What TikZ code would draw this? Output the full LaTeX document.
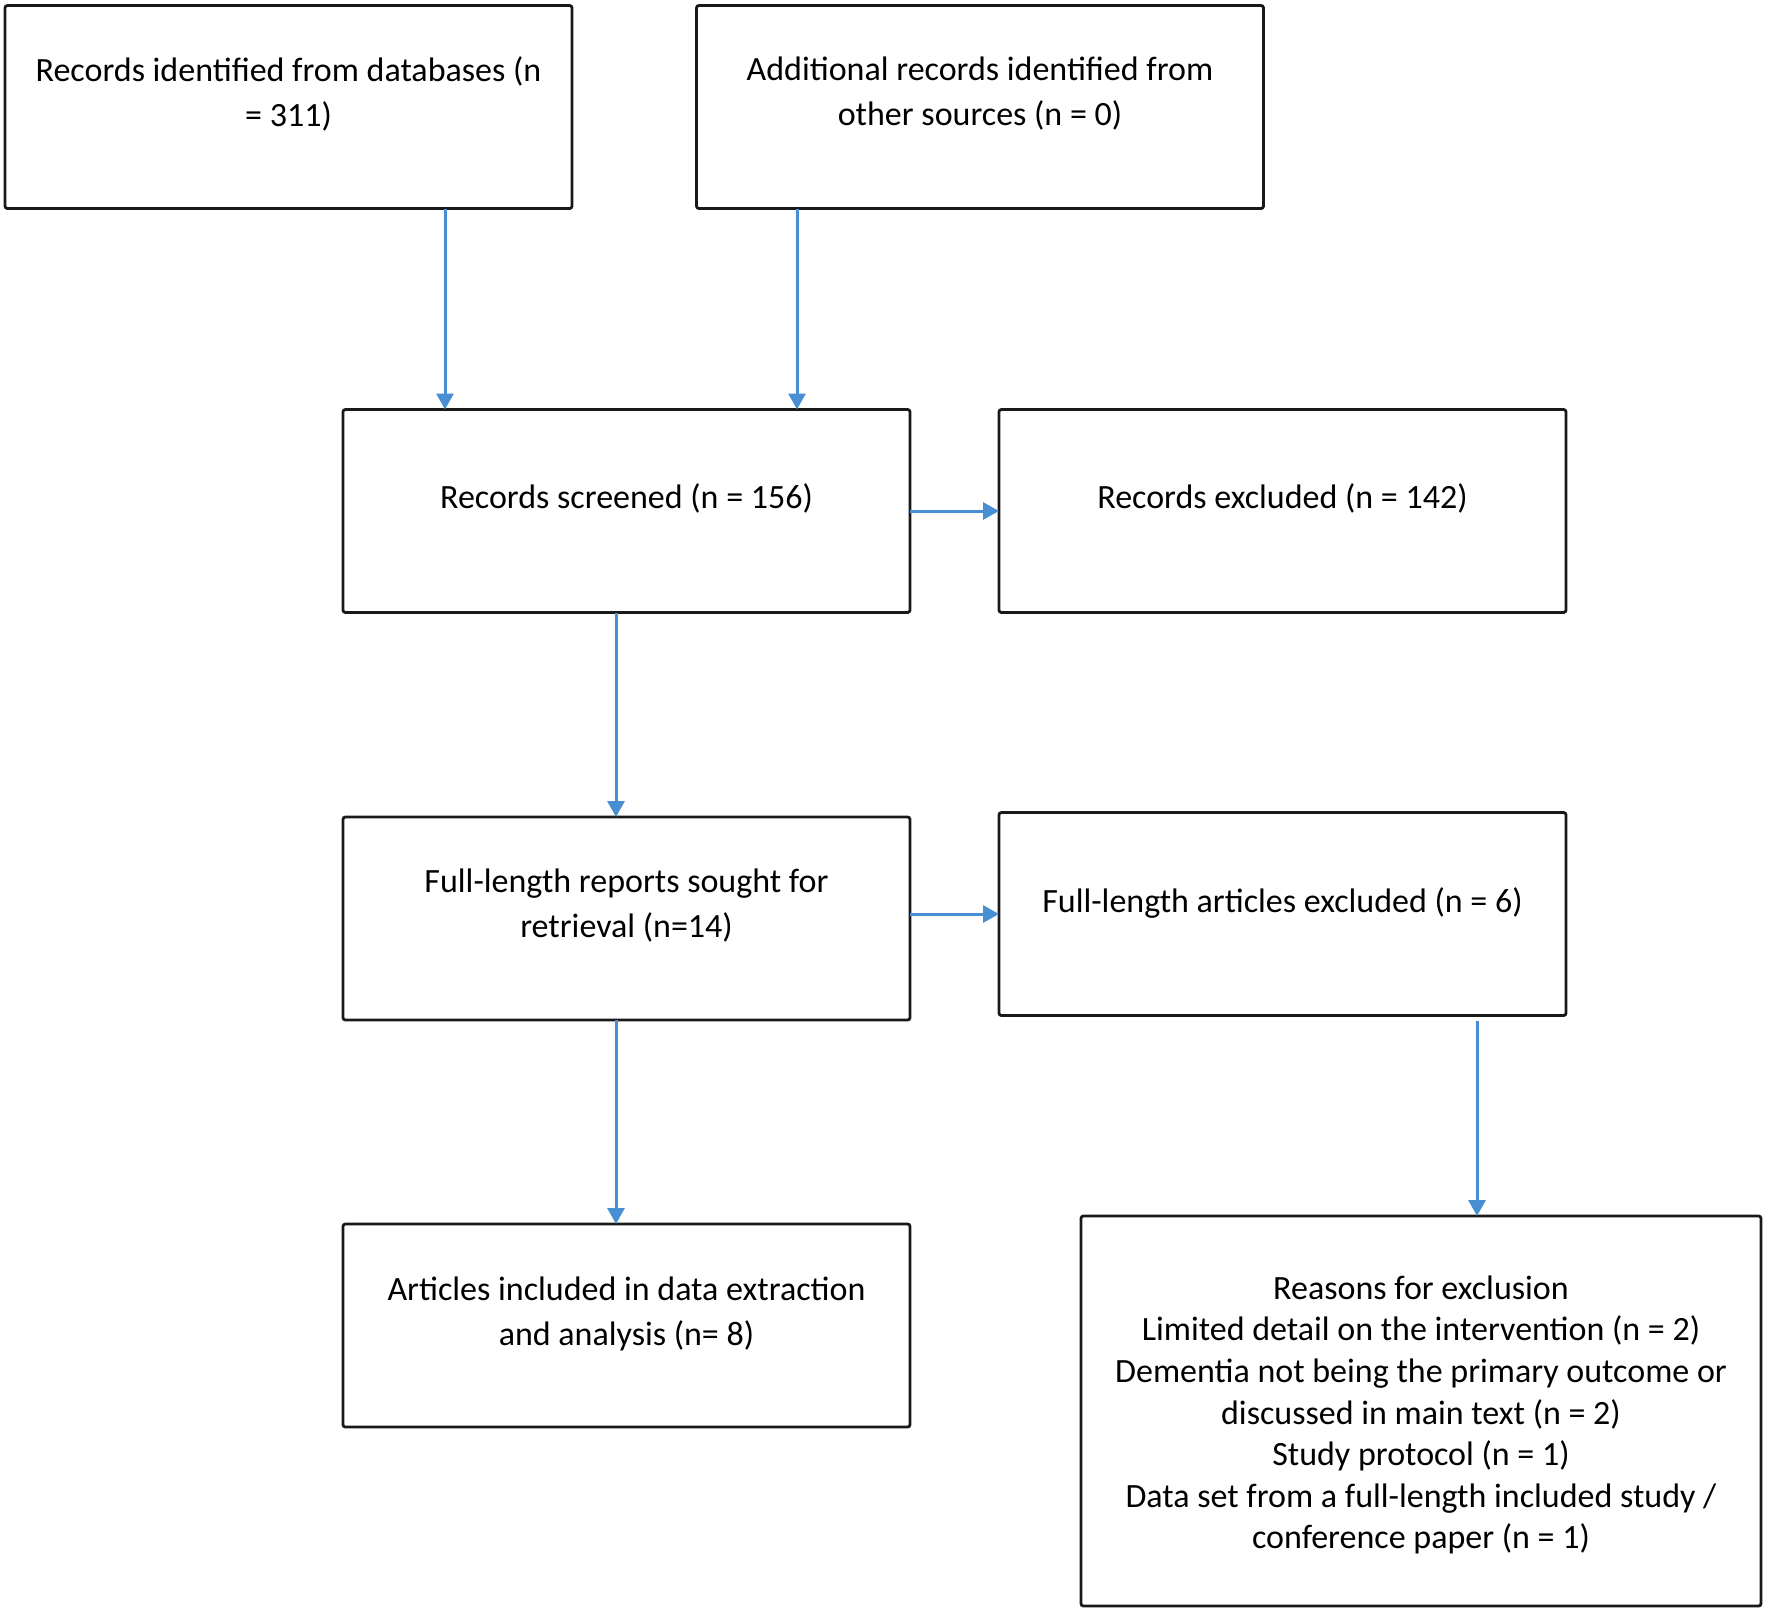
\documentclass[tikz,border=0pt]{standalone}
\usepackage{fontspec}
\setmainfont{Carlito}
\usetikzlibrary{arrows.meta}
\definecolor{arrowblue}{RGB}{72,142,210}
\begin{document}
\begin{tikzpicture}[x=0.5pt,y=-0.5pt,
  box/.style={draw=black!90, line width=1.4pt, rounded corners=1.2pt,
    minimum width=283.5pt, minimum height=101.5pt, inner sep=0pt, outer sep=0pt},
  txt/.style={align=center, font=\fontsize{17}{22.5}\selectfont, inner sep=0pt},
  arr/.style={draw=arrowblue, line width=1.5pt, -{Triangle[length=8pt,width=8.5pt]}}]
\useasboundingbox (0,0) rectangle (1772,1618);

% boxes
\node[box] (b1) at (288.5,107) {};
\node[box] (b2) at (980,107) {};
\node[box] (b3) at (626.5,511) {};
\node[box] (b4) at (1282.5,511) {};
\node[box] (b5) at (626.5,918.5) {};
\node[box] (b6) at (1282.5,914) {};
\node[box] (b7) at (626.5,1325.5) {};
\node[box, minimum width=340pt, minimum height=195pt] (b8) at (1421,1411) {};

% texts
\node[txt] (t1) at (288.5,94) {Records identified from databases (n\\= 311)};
\node[txt] (t2) at (980,94) {Additional records identified from\\other sources (n = 0)};
\node[txt] (t3) at (626.5,498) {Records screened (n = 156)};
\node[txt] (t4) at (1282.5,498) {Records excluded (n = 142)};
\node[txt] (t5) at (626.5,906) {Full-length reports sought for\\retrieval (n=14)};
\node[txt] (t6) at (1282.5,903) {Full-length articles excluded (n = 6)};
\node[txt] (t7) at (626.5,1314) {Articles included in data extraction\\and analysis (n= 8)};
\node[txt, font=\fontsize{17}{20.8}\selectfont] (t8) at (1421,1415) {Reasons for exclusion\\Limited detail on the intervention (n = 2)\\Dementia not being the primary outcome or\\discussed in main text (n = 2)\\Study protocol (n = 1)\\Data set from a full-length included study /\\conference paper (n = 1)};

% connector columns
\coordinate (c1) at (445,0);
\coordinate (c2) at (797,0);
\coordinate (c3) at (616,0);
\coordinate (c4) at (1477,0);
\coordinate (r5) at (0,914);

% connectors
\draw[arr] (b1.south -| c1) -- (b3.north -| c1);
\draw[arr] (b2.south -| c2) -- (b3.north -| c2);
\draw[arr] (b3.east) -- (b4.west);
\draw[arr] (b3.south -| c3) -- (b5.north -| c3);
\draw[arr] (b5.east |- r5) -- (b6.west);
\draw[arr] (b5.south -| c3) -- (b7.north -| c3);
\draw[arr, shorten <=2.5pt] (b6.south -| c4) -- (b8.north -| c4);
\end{tikzpicture}
\end{document}
